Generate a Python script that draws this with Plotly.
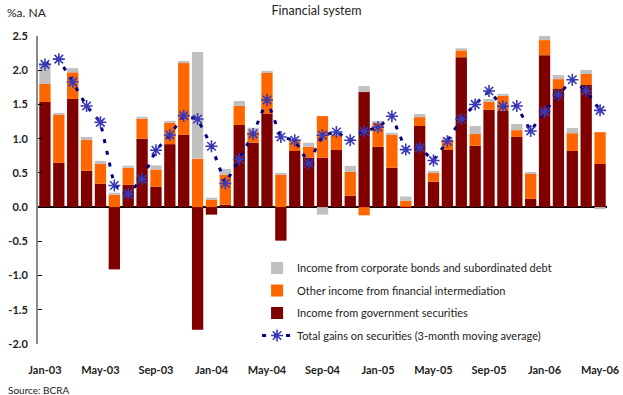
import plotly.graph_objects as go

months = [
    "Jan-03", "Feb-03", "Mar-03", "Apr-03", "May-03", "Jun-03", "Jul-03", "Aug-03",
    "Sep-03", "Oct-03", "Nov-03", "Dec-03", "Jan-04", "Feb-04", "Mar-04", "Apr-04",
    "May-04", "Jun-04", "Jul-04", "Aug-04", "Sep-04", "Oct-04", "Nov-04", "Dec-04",
    "Jan-05", "Feb-05", "Mar-05", "Apr-05", "May-05", "Jun-05", "Jul-05", "Aug-05",
    "Sep-05", "Oct-05", "Nov-05", "Dec-05", "Jan-06", "Feb-06", "Mar-06", "Apr-06",
    "May-06",
]

# Monthly income components (% annualized of net assets)
gov_securities = [1.535, 0.646, 1.58, 0.53, 0.34, -0.91, 0.325, 1.0, 0.30, 0.92, 1.055,
                  -1.79, -0.11, 0.034, 1.2, 0.94, 1.36, -0.49, 0.82, 0.72, 0.72, 0.835,
                  0.165, 1.68, 0.88, 0.575, 0.005, 1.185, 0.37, 0.835, 2.19, 0.895, 1.42,
                  1.405, 1.025, 0.12, 2.22, 1.725, 0.82, 1.785, 0.63]
other_intermediation = [0.265, 0.70, 0.39, 0.45, 0.29, 0.18, 0.25, 0.29, 0.25, 0.31, 1.05,
                        0.705, 0.107, 0.437, 0.277, 0.16, 0.60, 0.47, 0.145, 0.16, 0.61,
                        0.22, 0.35, -0.12, 0.35, 0.48, 0.09, 0.13, 0.13, 0.145, 0.10, 0.175,
                        0.115, 0.22, 0.10, 0.365, 0.22, 0.145, 0.26, 0.16, 0.465]
corporate_bonds = [0.285, 0.03, 0.06, 0.045, 0.045, 0.03, 0.03, 0.03, 0.06, 0.03, 0.03,
                   1.56, 0.03, 0.088, 0.073, 0.06, 0.03, 0.015, 0.03, 0.06, -0.11, 0.03,
                   0.088, 0.088, 0.03, 0.03, 0.06, 0.045, 0.03, 0.03, 0.03, 0.115, 0.045,
                   0.03, 0.09, 0.015, 0.06, 0.06, 0.075, 0.06, -0.03]
total_3m_avg = [2.085, 2.162, 1.827, 1.477, 1.239, 0.316, 0.194, 0.408, 0.831, 1.054, 1.336,
                1.288, 0.889, 0.345, 0.70, 1.069, 1.565, 1.025, 0.977, 0.637, 1.05, 1.098,
                0.977, 1.108, 1.166, 1.327, 0.84, 0.87, 0.68, 0.962, 1.288, 1.50, 1.696,
                1.472, 1.477, 1.113, 1.395, 1.642, 1.861, 1.70, 1.414]

y_ticks = [-2.0, -1.5, -1.0, -0.5, 0.0, 0.5, 1.0, 1.5, 2.0, 2.5]
y_tick_text = ["-2.0", "-1.5", "-1.0", "-0.5", "0.0", "0.5", "1.0", "1.5", "2.0", "2.5"]

FONT = "Lato"

fig = go.Figure()
fig.add_trace(go.Bar(x=months, y=gov_securities, name="Income from government securities",
                     marker=dict(color="#800000", line=dict(width=0)),
                     legendrank=3, legendgroup="g3"))
fig.add_trace(go.Bar(x=months, y=other_intermediation,
                     name="Other income from financial intermediation",
                     marker=dict(color="#FF6600", line=dict(width=0)),
                     legendrank=2, legendgroup="g2"))
fig.add_trace(go.Bar(x=months, y=corporate_bonds,
                     name="Income from corporate bonds and subordinated debt",
                     marker=dict(color="#C0C0C0", line=dict(width=0)),
                     legendrank=1, legendgroup="g1"))
fig.add_trace(go.Scatter(x=months, y=total_3m_avg, mode="lines+markers",
                         name="Total gains on securities (3-month moving average)",
                         line=dict(color="#000080", width=3, dash="4px,8px"),
                         marker=dict(symbol="asterisk", size=10,
                                     line=dict(color="#3838B8", width=1.6)),
                         legendrank=4, legendgroup="g4"))

fig.update_layout(
    width=623, height=395,
    barmode="relative", bargap=0.185,
    plot_bgcolor="white", paper_bgcolor="white",
    margin=dict(l=38, r=16, t=36, b=51, autoexpand=False),
    font=dict(family=FONT, size=11, color="#222222"),
    title=dict(text="Financial system", x=0.508, xanchor="center", y=0.985, yanchor="top",
               font=dict(family=FONT, size=12.5, color="#222222")),
    legend=dict(x=0.385, xanchor="left", y=0.294, yanchor="top",
                traceorder="grouped", tracegroupgap=3.5,
                font=dict(family=FONT, size=11, color="#222222"),
                bgcolor="rgba(0,0,0,0)"),
    showlegend=True,
)

fig.update_xaxes(
    type="category", range=[-0.5, len(months) - 0.5], automargin=False,
    showgrid=False, showline=False, zeroline=False,
    tickmode="array", tickvals=months[::4], ticktext=months[::4],
    ticks="outside", ticklen=16, tickcolor="rgba(0,0,0,0)",
    tickfont=dict(family=FONT, size=11, color="#222222", weight="bold"),
)
fig.update_yaxes(
    range=[-2.0, 2.5], automargin=False, showgrid=False,
    showline=True, linecolor="#8a8a8a", linewidth=2,
    zeroline=True, zerolinecolor="#000000", zerolinewidth=1.5,
    ticks="inside", ticklen=4, tickcolor="#000000", tickwidth=1,
    tickmode="array", tickvals=y_ticks, ticktext=y_tick_text,
    ticklabelstandoff=6,
    tickfont=dict(family=FONT, size=11, color="#222222", weight="bold"),
    layer="above traces",
)

fig.add_annotation(text="%a. NA", xref="paper", yref="paper", x=-0.058, y=1.0,
                   xanchor="left", yanchor="bottom", yshift=14, showarrow=False,
                   font=dict(family=FONT, size=12, color="#222222"))
fig.add_annotation(text="Source: BCRA", xref="paper", yref="paper", x=-0.056, y=0,
                   xanchor="left", yanchor="top", yshift=-38, showarrow=False,
                   font=dict(family=FONT, size=10, color="#222222"))

fig.write_html("out.html")
